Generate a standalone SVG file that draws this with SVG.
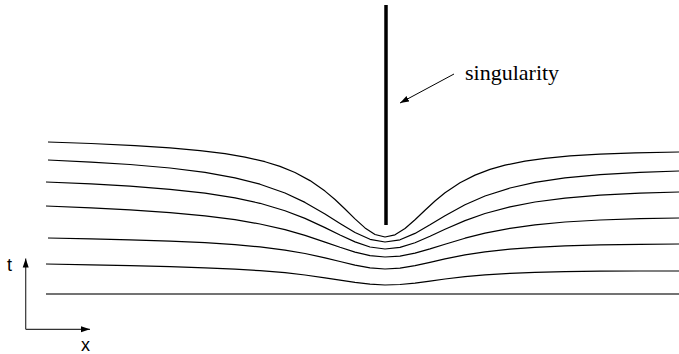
<svg xmlns="http://www.w3.org/2000/svg" width="679" height="354" viewBox="0 0 679 354">
<style>
.c{fill:none;stroke:#000;stroke-width:1.2;stroke-linejoin:round}
.ax{fill:none;stroke:#333;stroke-width:1.2}
.lbl{font-family:"Liberation Serif","Times New Roman",serif;font-size:22px;fill:#000}
.xt{font-family:"Liberation Sans",Arial,sans-serif;font-size:18px;fill:#000}
</style>
<defs>
<marker id="ah" markerWidth="10" markerHeight="8" refX="9" refY="4" orient="auto" markerUnits="userSpaceOnUse">
<path d="M0,1 L9,4 L0,7 Z" fill="#000" stroke="none"/>
</marker>
</defs>
<g id="curves">
<path class="c" d="M48,142 L91,143.5 L135,145.6 L170,147.9 L200,150.6 L225,153.7 L245,157.1 L265,161.7 L280,166.4 L295,172.5 L310,180.6 L325,191.1 L335,199.5 L345,209 L355,218.9 L365,227.9 L375,234.5 L385,237 L395,234.8 L405,228.5 L415,219.8 L425,210.2 L435,201 L445,192.8 L460,182.7 L475,175.1 L490,169.4 L505,165.2 L525,161.1 L545,158.3 L570,155.9 L600,154.1 L635,152.8 L679,152"/>
<path class="c" d="M48,160 L91,162.1 L130,164.5 L170,168 L205,172.4 L235,177.8 L260,184.2 L285,193 L305,202.4 L325,213.9 L340,223.4 L355,232.5 L370,239.3 L385,242 L400,239.8 L415,233.4 L430,224.8 L445,215.7 L465,204.8 L485,196 L510,188 L535,182.4 L565,177.9 L600,174.6 L640,172.3 L679,171"/>
<path class="c" d="M46,182 L91,183.9 L130,186.2 L170,189.3 L205,193.1 L235,197.9 L260,203.3 L285,210.8 L305,218.4 L325,227.6 L340,235 L355,241.9 L370,247 L385,249 L400,247.4 L415,242.7 L430,236.3 L445,229.3 L465,220.6 L485,213.5 L510,206.8 L535,202 L565,198.1 L600,195.2 L640,193.1 L679,192"/>
<path class="c" d="M46,206 L91,207.8 L130,209.8 L170,212.6 L205,215.8 L235,219.7 L260,224 L285,229.7 L305,235.4 L325,242.1 L340,247.3 L355,252.1 L370,255.6 L385,257 L400,256.1 L415,253.1 L430,248.9 L445,244.2 L465,238.2 L485,233.1 L510,228.3 L535,224.9 L565,222 L600,220 L640,218.7 L679,218"/>
<path class="c" d="M48,238 L91,238.9 L130,239.8 L170,241.1 L205,242.7 L235,244.6 L260,246.9 L285,250.1 L305,253.5 L325,257.8 L340,261.5 L355,265.1 L370,267.9 L385,269 L400,268.1 L415,265.6 L430,262.3 L445,258.9 L465,254.9 L485,251.8 L510,249.1 L535,247.3 L565,245.9 L600,244.9 L640,244.3 L679,244"/>
<path class="c" d="M46,264 L91,264.8 L130,265.6 L170,266.6 L205,267.8 L235,269.1 L260,270.7 L285,272.7 L305,275 L325,277.8 L340,280.1 L355,282.4 L370,284.2 L385,285 L400,284.5 L415,283.1 L430,281.1 L445,279 L465,276.7 L485,274.9 L510,273.3 L535,272.3 L565,271.6 L600,271.1 L640,271 L679,271"/>
<path d="M46,294 L679,294" fill="none" stroke="#444" stroke-width="1.4"/>
</g>
<g id="singularity-line">
<line x1="386" y1="5" x2="386" y2="225" stroke="#000" stroke-width="3.5"/>
</g>
<g id="connectors">
<line x1="454" y1="74" x2="400" y2="103" stroke="#000" stroke-width="1" marker-end="url(#ah)"/>
<line class="ax" x1="25.7" y1="329.3" x2="25.7" y2="258.5" marker-end="url(#ah)"/>
<line class="ax" x1="25.7" y1="329.3" x2="90" y2="329.3" marker-end="url(#ah)"/>
</g>
<g id="labels">
<text class="lbl" x="465" y="80">singularity</text>
<text class="xt" x="7" y="271">t</text>
<text class="xt" x="81" y="351">x</text>
</g>
</svg>
